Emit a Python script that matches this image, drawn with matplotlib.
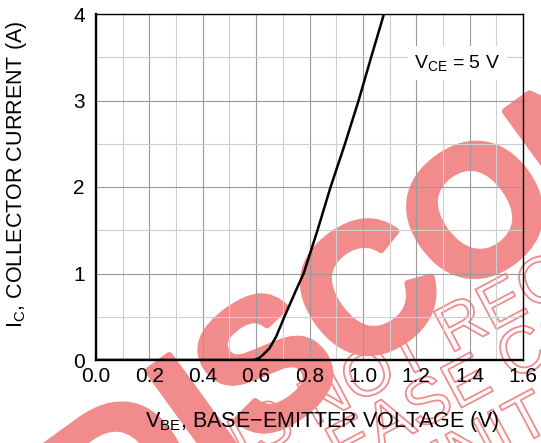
"""Collector current vs base-emitter voltage (V_CE = 5 V)."""

import matplotlib
matplotlib.use('Agg')
import matplotlib.pyplot as plt
import matplotlib.patheffects as pe
from matplotlib.ticker import MultipleLocator

# curve
vbe = [0.0, 0.30, 0.50, 0.59, 0.61, 0.625, 0.65, 0.675, 0.706, 0.75,
       0.778, 0.83, 0.879, 0.933, 0.984, 1.031, 1.079]
ic = [0.0, 0.0, 0.0, 0.0, 0.02, 0.058, 0.135, 0.27, 0.5, 0.81,
      1.0, 1.5, 2.0, 2.5, 3.0, 3.5, 4.0]

x_ticks = [0.0, 0.2, 0.4, 0.6, 0.8, 1.0, 1.2, 1.4, 1.6]
y_ticks = [0, 1, 2, 3, 4]

# watermark texts
mark_big = 'DISCONTINUED'
mark_lines = ['IS NOT RECOMMENDED FOR NEW DESIGN',
              'PLEASE CONTACT YOUR REPRESENTATIVE',
              'UNIT']

plt.rcParams['font.family'] = ['Liberation Sans', 'DejaVu Sans']
plt.rcParams['mathtext.default'] = 'regular'

W, H = 541, 443
fig = plt.figure(figsize=(W / 100., H / 100.), dpi=100)
fig.patch.set_facecolor('white')
ax = fig.add_axes([96. / W, 1 - 360. / H, 427. / W, 346. / H])
ax.set_facecolor('none')

# watermark, drawn behind the axes
wm = '#f28b8b'


def px(x, y):
    return x / W, 1 - y / H


fig.text(*px(106, 555), mark_big, fontsize=130, fontweight='bold', color=wm,
         rotation=36, rotation_mode='anchor', ha='left', va='baseline',
         zorder=-5, path_effects=[pe.withStroke(linewidth=5, foreground=wm)])
for (x0, y0), s in zip([(243, 464), (271, 509), (420, 499)], mark_lines):
    fig.text(*px(x0, y0), s, fontsize=47, color='none', rotation=28,
             rotation_mode='anchor', ha='left', va='baseline', zorder=-5,
             path_effects=[pe.withStroke(linewidth=1.3, foreground=wm)])

ax.plot(vbe, ic, '-k', lw=1.8, zorder=5)

ax.set_xlim(0, 1.6)
ax.set_ylim(0, 4)
ax.set_xticks(x_ticks)
ax.set_xticklabels(['%.1f' % v for v in x_ticks])
ax.set_yticks(y_ticks)
ax.xaxis.set_minor_locator(MultipleLocator(0.1))
ax.yaxis.set_minor_locator(MultipleLocator(0.5))
ax.grid(which='major', color='#999999', lw=0.8)
ax.grid(which='minor', color='#cfcfcf', lw=0.8)
ax.set_axisbelow(True)
ax.tick_params(which='both', length=0, labelsize=15)
ax.tick_params(axis='x', pad=5)
ax.tick_params(axis='y', pad=8)

for side in ['left', 'bottom']:
    ax.spines[side].set_linewidth(1.7)
for side in ['top', 'right']:
    ax.spines[side].set_linewidth(1.0)

ax.text(1.354, 3.43, r'V$_{CE}$ = 5 V', fontsize=14, ha='center', va='center',
        zorder=6, bbox=dict(boxstyle='square,pad=0.35', fc='white', ec='none'))

fig.text(*px(17, 174), r'I$_C$, COLLECTOR CURRENT (A)', fontsize=15.5,
         rotation=90, ha='center', va='center')
fig.text(*px(322, 421), r'V$_{BE}$, BASE−EMITTER VOLTAGE (V)', fontsize=15.5,
         ha='center', va='center')

fig.savefig('out.png', dpi=100)
